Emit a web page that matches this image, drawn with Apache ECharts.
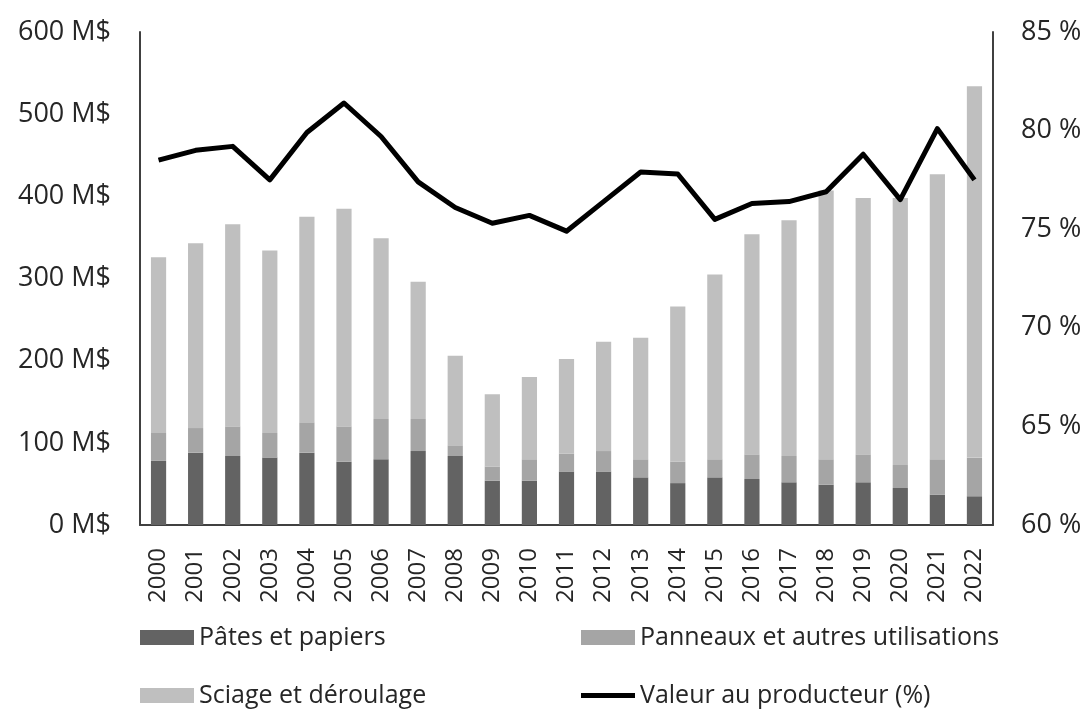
<!DOCTYPE html>
<html><head><meta charset="utf-8">
<script src="https://cdn.jsdelivr.net/npm/echarts@6/dist/echarts.min.js"></script>
<style>html,body{margin:0;padding:0;background:#fff}#c{width:1088px;height:709px}</style>
</head><body><div id="c"></div>
<script>
const years = ['2000','2001','2002','2003','2004','2005','2006','2007','2008','2009','2010','2011','2012','2013','2014','2015','2016','2017','2018','2019','2020','2021','2022'];
const pates = [78, 88, 84, 82, 88, 77, 80, 90, 84, 54, 54, 65, 65, 58, 51, 58, 56, 52, 49, 52, 45, 37, 35];
const panneaux = [34, 30, 36, 30, 37, 43, 49, 39, 13, 17, 26, 22, 25, 22, 26, 22, 30, 32, 31, 34, 28, 43, 47];
const sciage = [214, 225, 246, 222, 250, 265, 220, 167, 109, 88, 100, 115, 133, 148, 189, 225, 268, 287, 327, 312, 325, 347, 452];
const valeur = [78.5, 79.0, 79.2, 77.5, 79.9, 81.4, 79.7, 77.4, 76.1, 75.3, 75.7, 74.9, 76.4, 77.9, 77.8, 75.5, 76.3, 76.4, 76.9, 78.8, 76.5, 80.1, 77.5];
const leftTicks = [0, 100, 200, 300, 400, 500, 600];
const rightTicks = [60, 65, 70, 75, 80, 85];

const font = '"Open Sans", sans-serif';
const txt = '#262626';
const chart = echarts.init(document.getElementById('c'), null, {renderer: 'canvas'});
const legendBase = {itemWidth: 54, itemHeight: 15, itemGap: 0, textStyle: {fontFamily: font, fontSize: 25, color: txt}, selectedMode: false, padding: 0};
chart.setOption({
  animation: false,
  grid: {left: 140, right: 95, top: 32, bottom: 184},
  legend: [
    Object.assign({}, legendBase, {data: [{name: 'Pâtes et papiers', icon: 'rect'}], left: 140, top: 625}),
    Object.assign({}, legendBase, {data: [{name: 'Panneaux et autres utilisations', icon: 'rect'}], left: 581, top: 625}),
    Object.assign({}, legendBase, {data: [{name: 'Sciage et déroulage', icon: 'rect'}], left: 140, top: 683}),
    Object.assign({}, legendBase, {data: [{name: 'Valeur au producteur (%)', icon: 'rect', itemStyle: {color: '#000'}}], itemHeight: 5, left: 581, top: 683})
  ],
  xAxis: {
    type: 'category', data: years,
    axisLine: {show: true, lineStyle: {color: '#404040', width: 2}},
    axisTick: {show: false},
    axisLabel: {rotate: 90, fontFamily: font, fontSize: 24, color: txt, margin: 23}
  },
  yAxis: [
    {type: 'value', min: leftTicks[0], max: leftTicks[leftTicks.length - 1], interval: 100,
     splitLine: {show: false},
     axisLine: {show: true, lineStyle: {color: '#404040', width: 2}},
     axisTick: {show: false},
     axisLabel: {fontFamily: font, fontSize: 27, color: txt, margin: 29, formatter: v => v + ' M$'}},
    {type: 'value', min: rightTicks[0], max: rightTicks[rightTicks.length - 1], interval: 5,
     splitLine: {show: false},
     axisLine: {show: true, lineStyle: {color: '#404040', width: 2}},
     axisTick: {show: false},
     axisLabel: {fontFamily: font, fontSize: 27, color: txt, margin: 28, formatter: v => v + ' %'}}
  ],
  series: [
    {name: 'Pâtes et papiers', type: 'bar', stack: 's', data: pates, barWidth: '41%', itemStyle: {color: '#636363'}},
    {name: 'Panneaux et autres utilisations', type: 'bar', stack: 's', data: panneaux, itemStyle: {color: '#a5a5a5'}},
    {name: 'Sciage et déroulage', type: 'bar', stack: 's', data: sciage, itemStyle: {color: '#bfbfbf'}},
    {name: 'Valeur au producteur (%)', type: 'line', yAxisIndex: 1, data: valeur, symbol: 'none',
     lineStyle: {color: '#000', width: 5, join: 'round'}, itemStyle: {color: '#000'}, z: 5}
  ]
});
</script></body></html>
